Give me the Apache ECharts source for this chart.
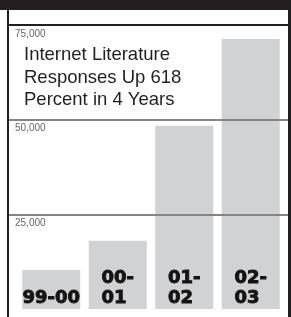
<!DOCTYPE html>
<html>
<head>
<meta charset="utf-8">
<script src="https://cdn.jsdelivr.net/npm/echarts@6/dist/echarts.min.js"></script>
<style>
html,body{margin:0;padding:0;background:#fff;}
#chart{width:291px;height:317px;}
</style>
</head>
<body>
<div id="chart"></div>
<script>
// Data
var categories = ['99-00', '00-\n01', '01-\n02', '02-\n03'];
var responses = [10300, 18000, 48400, 71300];
var yTicks = [0, 25000, 50000, 75000];
var titleLines = ['Internet Literature', 'Responses Up 618', 'Percent in 4 Years'];

var chart = echarts.init(document.getElementById('chart'), null, {renderer: 'canvas'});

var option = {
  animation: false,
  backgroundColor: '#ffffff',
  grid: [
    {left: 7, right: 3, top: 25, bottom: 8, containLabel: false, outerBoundsMode: 'none'},
    {left: 18, right: 7, top: 25, bottom: 8, containLabel: false, outerBoundsMode: 'none'}
  ],
  xAxis: [
    {gridIndex: 0, type: 'value', min: 0, max: 1, show: false},
    {gridIndex: 1, type: 'category', data: categories,
     axisLine: {show: false}, axisTick: {show: false}, axisLabel: {show: false}, splitLine: {show: false}}
  ],
  yAxis: [
    {gridIndex: 0, type: 'value', min: yTicks[0], max: yTicks[yTicks.length - 1],
     interval: yTicks[1] - yTicks[0], z: 10,
     axisLine: {show: false}, axisTick: {show: false},
     axisLabel: {
       inside: true, margin: 8, align: 'left', verticalAlign: 'top',
       padding: [4, 0, 0, 0],
       fontFamily: 'Liberation Sans, Arial, sans-serif', fontSize: 10, color: '#666',
       showMinLabel: false,
       formatter: function (v) { return v === 0 ? '' : v.toLocaleString('en-US'); }
     },
     splitLine: {show: true, showMinLine: true, showMaxLine: true,
       lineStyle: {color: ['rgba(0,0,0,0)', '#858585', '#858585', '#231f20'], width: 1.8}}
    },
    {gridIndex: 1, type: 'value', min: yTicks[0], max: yTicks[yTicks.length - 1], show: false, splitLine: {show: false}}
  ],
  graphic: [
    {type: 'rect', shape: {x: 0, y: 0, width: 291, height: 10}, style: {fill: '#231f20'}, z: 100},
    {type: 'rect', shape: {x: 7, y: 10, width: 2, height: 307}, style: {fill: '#231f20'}, z: 100},
    {type: 'rect', shape: {x: 288, y: 0, width: 3, height: 317}, style: {fill: '#231f20'}, z: 100},
    {type: 'text', left: 24, top: 44, z: 100,
     style: {text: titleLines.join('\n'), fontFamily: 'Liberation Sans, Arial, sans-serif',
       fontSize: 18.5, lineHeight: 22.5, fill: '#231f20'}}
  ],
  series: [
    {
      type: 'bar', xAxisIndex: 1, yAxisIndex: 1,
      data: responses,
      barCategoryGap: '12.8%',
      itemStyle: {color: '#d1d2d4'},
      label: {
        show: true, position: 'insideBottom', distance: 1,
        formatter: function (p) {
          return p.name.split('\n').map(function (s) { return '{t|' + s + '}'; }).join('\n');
        },
        rich: {
          t: {fontFamily: 'DejaVu Sans', fontWeight: 'bold', fontSize: 18, lineHeight: 20,
              color: '#161314', align: 'left',
              textBorderColor: '#161314', textBorderWidth: 0.9}
        }
      }
    }
  ]
};
chart.setOption(option);
</script>
</body>
</html>
